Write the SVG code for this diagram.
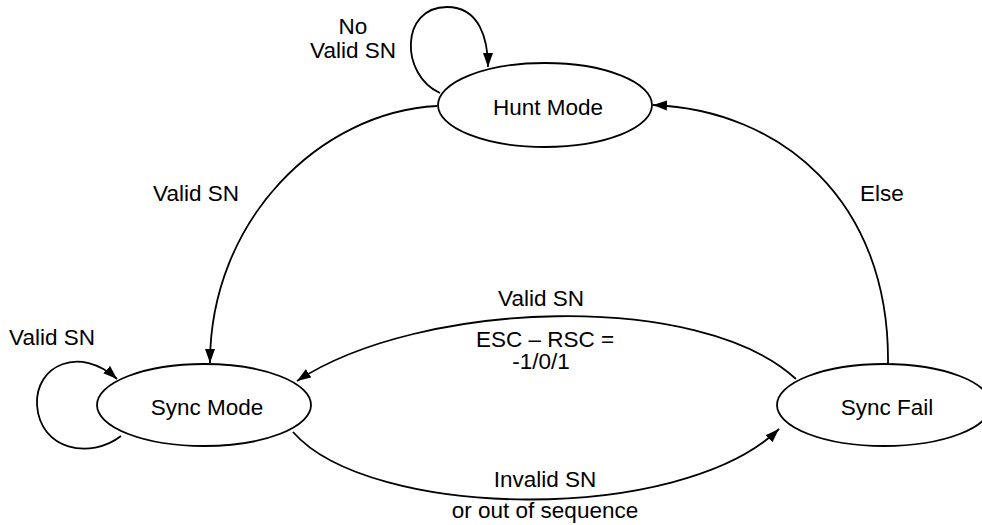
<svg xmlns="http://www.w3.org/2000/svg" width="982" height="525" viewBox="0 0 982 525">
<style>
.node{fill:#fff;stroke:#000;stroke-width:1.8}
.edge{fill:none;stroke:#000;stroke-width:1.8}
text{font-family:"Liberation Sans",Arial,sans-serif;font-size:22.5px;fill:#000;text-anchor:middle}
</style>
<defs>
<marker id="arr" markerUnits="userSpaceOnUse" markerWidth="16" markerHeight="12" refX="14" refY="5" orient="auto">
<path d="M0,0 L14,5 L0,10 Z" fill="#000"/>
</marker>
</defs>
<rect width="982" height="525" fill="#fff"/>
<g id="connectors">
<path class="edge" d="M440 93 C400 75 400 7 447 7 C480 7 488 40 488 67" marker-end="url(#arr)"/>
<path class="edge" d="M437 106 C320 112 210 220 210 363" marker-end="url(#arr)"/>
<path class="edge" d="M888 364 C890 200 780 110 653 105" marker-end="url(#arr)"/>
<path class="edge" d="M796 379 C700 290 420 300 297 381" marker-end="url(#arr)"/>
<path class="edge" d="M293 432 C370 520 680 525 779 429" marker-end="url(#arr)"/>
<path class="edge" d="M121 436 C90 460 40 450 37 405 C35 365 80 345 117 379" marker-end="url(#arr)"/>
<text x="353" y="34">No</text>
<text x="353" y="58">Valid SN</text>
<text x="196" y="201">Valid SN</text>
<text x="882" y="201">Else</text>
<text x="52" y="345">Valid SN</text>
<text x="541" y="306">Valid SN</text>
<text x="545" y="347">ESC – RSC =</text>
<text x="541" y="369">-1/0/1</text>
<text x="545" y="487">Invalid SN</text>
<text x="545" y="518">or out of sequence</text>
</g>
<g id="hunt">
<ellipse class="node" cx="545" cy="105" rx="107" ry="42"/>
<text x="548" y="115">Hunt Mode</text>
</g>
<g id="sync">
<ellipse class="node" cx="204" cy="405" rx="107" ry="41"/>
<text x="207" y="415">Sync Mode</text>
</g>
<g id="syncfail">
<ellipse class="node" cx="884" cy="405" rx="107" ry="41"/>
<text x="887" y="415">Sync Fail</text>
</g>
</svg>
